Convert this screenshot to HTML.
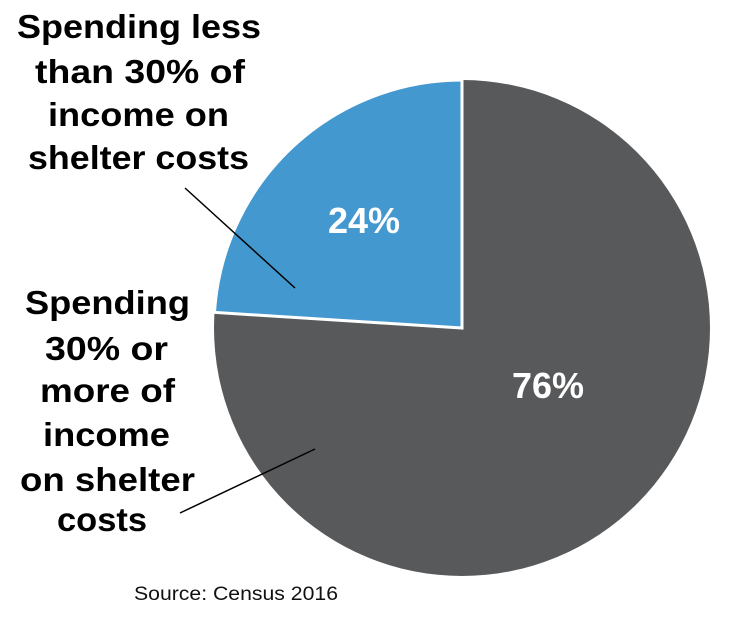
<!DOCTYPE html>
<html><head><meta charset="utf-8"><style>
html,body{margin:0;padding:0;background:#fff;}
svg{display:block;}
text{font-family:"Liberation Sans",sans-serif;}
.l{font-weight:bold;font-size:33px;fill:#000;}
.p{font-weight:bold;font-size:36px;fill:#fff;}
</style></head><body>
<svg width="736" height="630" viewBox="0 0 736 630" xmlns="http://www.w3.org/2000/svg">
<circle cx="462" cy="328" r="248" fill="#58595b"/>
<path d="M462,328 L462,80 A248,248 0 0,0 214.5,312.4 Z" fill="#4398cf" stroke="#fff" stroke-width="3" stroke-linejoin="miter"/>
<text class="p" x="364" y="233" text-anchor="middle">24%</text>
<text class="p" x="548" y="398" text-anchor="middle">76%</text>
<line x1="185" y1="188" x2="295" y2="288" stroke="#000" stroke-width="1.5"/>
<line x1="180" y1="513" x2="315" y2="449" stroke="#000" stroke-width="1.5"/>
<text class="l" x="17" y="38" textLength="244" lengthAdjust="spacingAndGlyphs">Spending less</text>
<text class="l" x="35" y="83" textLength="210" lengthAdjust="spacingAndGlyphs">than 30% of</text>
<text class="l" x="48" y="126" textLength="181" lengthAdjust="spacingAndGlyphs">income on</text>
<text class="l" x="28" y="169" textLength="221" lengthAdjust="spacingAndGlyphs">shelter costs</text>
<text class="l" x="25" y="314" textLength="165" lengthAdjust="spacingAndGlyphs">Spending</text>
<text class="l" x="45" y="360" textLength="123" lengthAdjust="spacingAndGlyphs">30% or</text>
<text class="l" x="40" y="402" textLength="135" lengthAdjust="spacingAndGlyphs">more of</text>
<text class="l" x="43" y="446" textLength="127" lengthAdjust="spacingAndGlyphs">income</text>
<text class="l" x="20" y="491" textLength="175" lengthAdjust="spacingAndGlyphs">on shelter</text>
<text class="l" x="57" y="531" textLength="90" lengthAdjust="spacingAndGlyphs">costs</text>
<text x="134" y="600" font-size="19" fill="#111" textLength="204" lengthAdjust="spacingAndGlyphs">Source: Census 2016</text>
</svg>
</body></html>
